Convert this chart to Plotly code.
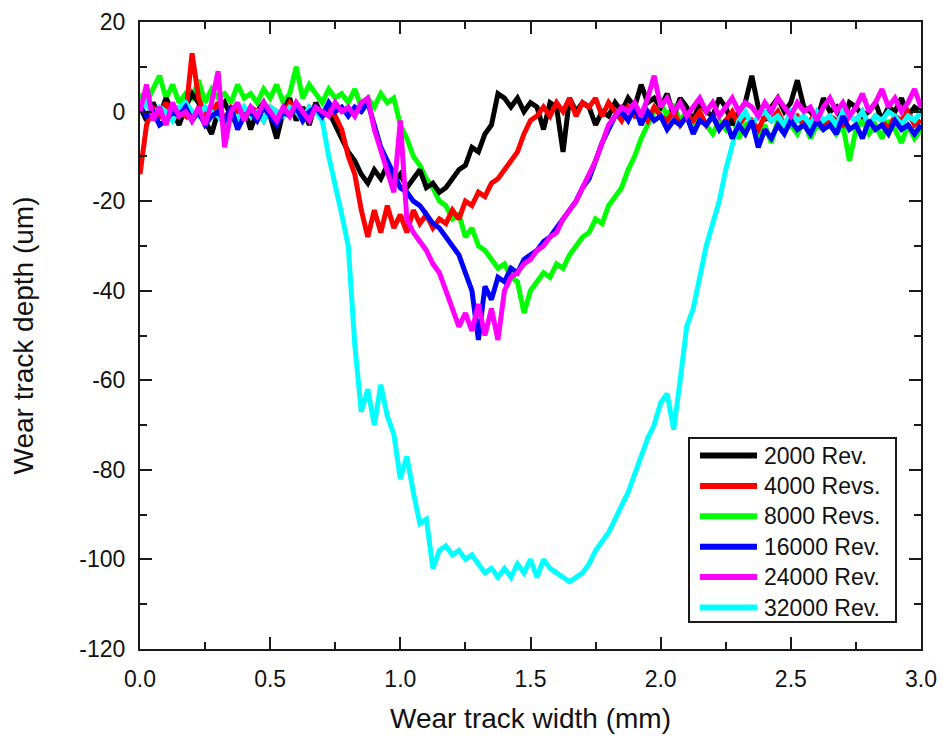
import plotly.graph_objects as go

# Profilometer traces across the wear track, sampled every 0.025 mm
x_step_mm = 0.025
n_points = 121
width_mm = [round(i * x_step_mm, 3) for i in range(n_points)]

depth_2000 = [
    1, -2, 2, -1, 3, 0, -3, 1, 4, 2,
    -2, -5, 0, 2, -1, -3, 1, -4, 0, 2,
    -1, -6, 0, 3, -2, 1, -3, 2, -1, 0,
    -3, -6, -9, -11, -14, -16, -13, -15, -12, -16,
    -14, -17, -15, -13, -17, -16, -18, -17, -15, -13,
    -12, -8, -9, -5, -3, 4, 3, 1, 3, 0,
    2, 1, -4, 2, 1, -9, 3, 0, 2, 1,
    -3, 0, -1, 2, 0, 3, 1, 6, 2, 3,
    1, 4, -1, 3, 1, -2, 2, 0, -1, 3,
    1, -3, 0, 2, 8, 1, -2, 1, 3, 0,
    2, 7, 1, 0, -2, 3, 0, 1, -3, 2,
    1, -1, 0, 2, -2, 1, 0, 3, -1, 1,
    0,
]
depth_4000 = [
    -14, -3, 1, -1, 2, -2, 0, -1, 13, 3,
    -1, 0, 2, -2, 1, 0, -1, 1, 0, -2,
    1, 0, -1, 2, 0, -2, 1, 0, -1, 1,
    -1, -4, -10, -14, -22, -28, -22, -27, -21, -26,
    -23, -27, -22, -25, -23, -26, -24, -25, -22, -24,
    -20, -21, -18, -19, -16, -15, -13, -11, -9, -5,
    -2, -1, 1, -1, 2, 0, 3, -1, 2, 1,
    3, -1, 2, 0, -2, 1, -1, 0, -2, 1,
    -1, -2, 0, -3, -1, -2, 0, -3, -1, -4,
    -2, 0, -3, -1, -2, -4, -1, -2, 0, -3,
    -2, -1, -3, -2, 0, -4, -1, -2, -3, -1,
    -2, 0, -3, -1, -2, -4, -1, -2, 0, -3,
    -2,
]
depth_8000 = [
    4, 2, 5, 8, 3, 6, 2, 4, 3, 7,
    2, 5, 3, 4, 2, 6, 3, 4, 2, 5,
    3, 6, 2, 4, 10, 3, 6, 4, 2, 5,
    3, 4, 2, 5, 1, 3, 1, 4, 2, 3,
    -3, -6, -10, -12, -15, -17, -20, -21, -24, -23,
    -28, -26, -30, -31, -33, -35, -34, -37, -38, -45,
    -40, -38, -36, -37, -34, -35, -32, -30, -28, -27,
    -24, -25, -21, -19, -17, -13, -10, -6, -3, 0,
    2, -1, 1, -2, 0, -4, -1, -3, -5, -2,
    -4, -1, -6, -3, -2, -5, -3, -7, -2, -4,
    -3, -5, -2, -6, -3, -4, -2, -5, -3, -11,
    -4, -2, -5, -3, -6, -2, -4, -7, -3, -6,
    -4,
]
depth_16000 = [
    1, -1, 0, -3, -2, 0, -1, 1, -2, 0,
    -3, -1, 0, -2, 1, -4, -1, 0, -2, 1,
    -1, -3, 0, -1, 1, -2, 0, 1, -1, 2,
    0, 1, -1, 1, 0, 2, -3, -8, -11, -14,
    -17, -18, -20, -21, -23, -25, -26, -28, -30, -32,
    -36, -40, -51, -39, -42, -37, -38, -35, -36, -33,
    -32, -31, -29, -28, -26, -24, -22, -20, -17, -15,
    -11, -7, -4, -1, 0, -2, 1, -3, 0, -2,
    -1, -4, -2, -3, -1, -5, -2, -3, -1, -4,
    -2, -6, -3, -5, -2, -8, -4, -6, -3, -5,
    -2, -4, -3, -5, -2, -4, -3, -5, -1, -4,
    -3, -6, -2, -4, -3, -5, -2, -4, -3, -5,
    -3,
]
depth_24000 = [
    0, 6, -2, 1, -3, 2, -1, 0, -2, 1,
    -3, 2, 9, -8, 0, 2, -2, 1, -1, 2,
    0, -2, 1, -1, 2, 0, -2, 1, 0, -1,
    2, 0, 1, -1, 2, 3, -4, -9, -14, -18,
    -2, -24, -27, -29, -31, -34, -36, -40, -44, -48,
    -45, -49, -43, -50, -44, -51, -40, -37, -36, -34,
    -33, -31, -30, -28, -27, -24, -22, -20, -17, -14,
    -11, -7, -3, -1, 1, 0, 2, -1, 3, 8,
    1, 3, 0, 2, -1, 1, 3, 0, 2, -1,
    1, 3, 0, 2, 1, -1, 2, 0, 3, 1,
    -1, 2, 0, 1, -2, 1, 3, 0, 2, -1,
    1, 4, 0, 2, 5, 1, 3, 0, 2, 5,
    1,
]
depth_32000 = [
    0, 2, -1, 1, 0, -2, 1, 2, 0, -1,
    1, 0, -1, -3, 0, -2, 1, -1, 0, -2,
    1, 0, -1, 1, 0, -2, 1, 0, -2, -10,
    -16, -23, -30, -52, -67, -62, -70, -61, -68, -72,
    -82, -77, -85, -92, -91, -102, -98, -97, -99, -98,
    -100, -99, -101, -103, -102, -104, -102, -104, -101, -103,
    -100, -104, -100, -102, -103, -104, -105, -104, -103, -101,
    -98, -96, -94, -91, -88, -85, -81, -77, -73, -70,
    -65, -63, -71, -60, -48, -44, -37, -30, -25, -20,
    -13, -7, -2, 0, -3, -1, 0, -2, -1, -3,
    0, -2, -1, -3, 0, -2, -1, -3, 0, -1,
    -2, 0, -3, -1, -2, 0, -1, -3, -1, -2,
    0,
]

series_names = ["2000 Rev.", "4000 Revs.", "8000 Revs.", "16000 Rev.", "24000 Rev.", "32000 Rev."]
series_depths = [depth_2000, depth_4000, depth_8000, depth_16000, depth_24000, depth_32000]
series_colors = ["#000000", "#FF0000", "#00FF00", "#0000FF", "#FF00FF", "#00FFFF"]
# drawing order (back to front)
draw_order = [2, 0, 1, 5, 3, 4]

x_tick_vals = [0.0, 0.5, 1.0, 1.5, 2.0, 2.5, 3.0]
x_tick_text = ["0.0", "0.5", "1.0", "1.5", "2.0", "2.5", "3.0"]
y_tick_vals = [-120, -100, -80, -60, -40, -20, 0, 20]
y_tick_text = ["-120", "-100", "-80", "-60", "-40", "-20", "0", "20"]

FONT = "Liberation Sans, Arial, sans-serif"
W, H = 943, 738
M_L, M_R, M_T, M_B = 140, 22, 22, 89

fig = go.Figure()
for k in draw_order:
    fig.add_trace(go.Scatter(
        x=width_mm, y=series_depths[k], mode="lines", name=series_names[k],
        line=dict(color=series_colors[k], width=5), showlegend=False,
    ))

axis_common = dict(
    showline=True, linewidth=2, linecolor="#1a1a1a", mirror="allticks",
    ticks="inside", ticklen=12, tickwidth=2, tickcolor="#1a1a1a",
    showgrid=False, zeroline=False,
    tickfont=dict(family=FONT, size=23, color="#111111"),
    minor=dict(ticks="inside", ticklen=7, tickwidth=2, tickcolor="#1a1a1a", showgrid=False),
)

fig.update_xaxes(
    range=[0, 3.0], tickvals=x_tick_vals, ticktext=x_tick_text,
    minor_dtick=0.25, ticklabelstandoff=8,
    title=dict(text="Wear track width (mm)", font=dict(family=FONT, size=28, color="#111111"), standoff=18),
    **axis_common,
)
fig.update_yaxes(
    range=[-120, 20], tickvals=y_tick_vals, ticktext=y_tick_text,
    minor_dtick=10, ticklabelstandoff=8,
    title=dict(text="Wear track depth (um)", font=dict(family=FONT, size=28, color="#111111"), standoff=38),
    **axis_common,
)

# Legend box drawn in paper coordinates
plot_w = W - M_L - M_R
plot_h = H - M_T - M_B


def px_x(px):
    return (px - M_L) / plot_w


def px_y(py):
    return (H - M_B - py) / plot_h


shapes = [dict(type="rect", xref="paper", yref="paper",
               x0=px_x(689), x1=px_x(896), y0=px_y(622), y1=px_y(438),
               line=dict(color="#1a1a1a", width=2), fillcolor="white", layer="above")]
annotations = []
row_top, row_gap = 455.5, 30.4
for i, (name, color) in enumerate(zip(series_names, series_colors)):
    ry = px_y(row_top + i * row_gap)
    shapes.append(dict(type="line", xref="paper", yref="paper",
                       x0=px_x(700), x1=px_x(757), y0=ry, y1=ry,
                       line=dict(color=color, width=6), layer="above"))
    annotations.append(dict(xref="paper", yref="paper", x=px_x(762), y=ry,
                            xanchor="left", yanchor="middle", showarrow=False,
                            text=name, font=dict(family=FONT, size=23, color="#111111")))

fig.update_layout(
    width=W, height=H,
    margin=dict(l=M_L, r=M_R, t=M_T, b=M_B, autoexpand=False),
    paper_bgcolor="white", plot_bgcolor="white",
    shapes=shapes, annotations=annotations,
    showlegend=False,
)

fig.write_html("out.html")
